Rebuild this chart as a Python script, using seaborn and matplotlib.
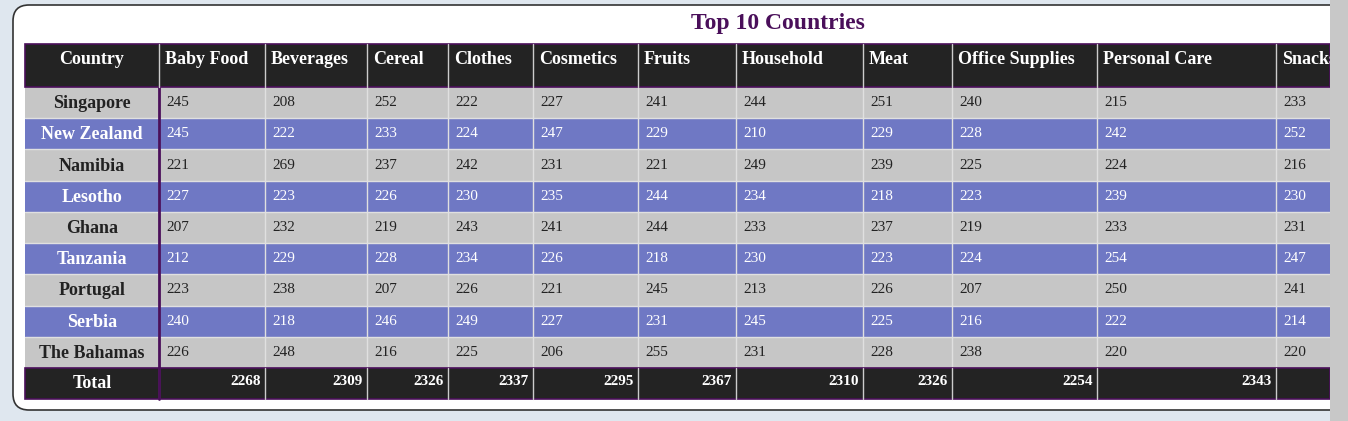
import numpy as np
import seaborn as sns
import matplotlib.pyplot as plt
from matplotlib.colors import ListedColormap
from matplotlib.patches import FancyBboxPatch, Rectangle

categories = ["Baby Food", "Beverages", "Cereal", "Clothes", "Cosmetics", "Fruits",
              "Household", "Meat", "Office Supplies", "Personal Care", "Snacks"]
countries = ["Singapore", "New Zealand", "Namibia", "Lesotho", "Ghana",
             "Tanzania", "Portugal", "Serbia", "The Bahamas"]
values = [
    [245, 208, 252, 222, 227, 241, 244, 251, 240, 215, 233],
    [245, 222, 233, 224, 247, 229, 210, 229, 228, 242, 252],
    [221, 269, 237, 242, 231, 221, 249, 239, 225, 224, 216],
    [227, 223, 226, 230, 235, 244, 234, 218, 223, 239, 230],
    [207, 232, 219, 243, 241, 244, 233, 237, 219, 233, 231],
    [212, 229, 228, 234, 226, 218, 230, 223, 224, 254, 247],
    [223, 238, 207, 226, 221, 245, 213, 226, 207, 250, 241],
    [240, 218, 246, 249, 227, 231, 245, 225, 216, 222, 214],
    [226, 248, 216, 225, 206, 255, 231, 228, 238, 220, 220],
]
totals = [2268, 2309, 2326, 2337, 2295, 2367, 2310, 2326, 2254, 2343, None]

# column edges in pixels (Country column first); last column clipped by the card
edges = [25, 159, 265, 367, 448, 533, 638, 736, 863, 952, 1097, 1276, 1330]
W, H = 1348, 421
top, body_top, body_bot, bot = 44, 87, 368, 399
rh = (body_bot - body_top) / len(countries)

GRAY, BLUE, DARK, PURPLE = "#c6c6c6", "#6f78c4", "#232323", "#4a0f5a"
serif = "Liberation Serif"

sns.set_theme(style="white")
plt.rcParams["font.family"] = [serif, "DejaVu Serif"]

fig = plt.figure(figsize=(W / 100, H / 100), dpi=100)
fig.patch.set_facecolor("#dfe7ef")

# page / card
bg = fig.add_axes([0, 0, 1, 1])
bg.set_xlim(0, W); bg.set_ylim(H, 0); bg.axis("off")
bg.add_patch(FancyBboxPatch((13, 5), 1340, 405, boxstyle="round,pad=0,rounding_size=16",
                            fc="white", ec="#333333", lw=1.2))
bg.add_patch(Rectangle((1330, 0), 18, H, fc="#c8c8c8", ec="none"))
bg.add_patch(Rectangle((1335, 0), 8, H, fc="#c0c0c0", ec="none"))
bg.text(778, 24, "Top 10 Countries", ha="center", va="center", fontsize=17,
        fontweight="bold", color=PURPLE, family=serif)

# body: heatmap of row parity on a per-pixel column grid
ncol = edges[-1] - edges[0]
parity = np.repeat(np.arange(len(countries)) % 2, ncol).reshape(len(countries), ncol)
bax = fig.add_axes([edges[0] / W, 1 - body_bot / H, ncol / W, (body_bot - body_top) / H])
sns.heatmap(parity, ax=bax, cmap=ListedColormap([GRAY, BLUE]), cbar=False,
            xticklabels=False, yticklabels=False)
bax.set_xlim(0, ncol); bax.set_ylim(len(countries), 0)
for e in edges[1:-1]:
    bax.axvline(e - edges[0], color="#e0e0e0", lw=1)
for i in range(1, len(countries)):
    bax.axhline(i, color="#e0e0e0", lw=1)
bax.axvline(edges[1] - edges[0], color=PURPLE, lw=2)

# header, country names, values and totals
ov = fig.add_axes([0, 0, 1, 1], facecolor="none")
ov.set_xlim(0, W); ov.set_ylim(H, 0); ov.axis("off")
ov.add_patch(Rectangle((edges[0], top), edges[-1] - edges[0], body_top - top, fc=DARK, ec=PURPLE, lw=1.2))
ov.add_patch(Rectangle((edges[0], body_bot), edges[-1] - edges[0], bot - body_bot, fc=DARK, ec=PURPLE, lw=1.2))
for e in edges[1:-1]:
    ov.plot([e, e], [top, body_top], color="#cccccc", lw=1)
    ov.plot([e, e], [body_bot, bot], color="#cccccc", lw=1)
ov.plot([edges[1], edges[1]], [body_bot, bot], color=PURPLE, lw=2)

hy = 60
ov.text((edges[0] + edges[1]) / 2, hy, "Country", ha="center", va="center",
        color="white", fontsize=13, fontweight="bold")
for j, c in enumerate(categories):
    ov.text(edges[j + 1] + 6, hy, c, ha="left", va="center", color="white",
            fontsize=13, fontweight="bold", clip_on=True)
ov.set_clip_box(None)

for i, name in enumerate(countries):
    y = body_top + (i + 0.5) * rh
    col = "white" if i % 2 else "#222222"
    ov.text((edges[0] + edges[1]) / 2, y + 1, name, ha="center", va="center",
            color=col, fontsize=13, fontweight="bold")
    for j, v in enumerate(values[i]):
        ov.text(edges[j + 1] + 7, y, str(v), ha="left", va="center", color=col, fontsize=11)

ty = (body_bot + bot) / 2
ov.text((edges[0] + edges[1]) / 2, ty, "Total", ha="center", va="center",
        color="white", fontsize=13, fontweight="bold")
for j, t in enumerate(totals):
    if t is not None:
        ov.text(edges[j + 2] - 4, ty - 2, str(t), ha="right", va="center",
                color="white", fontsize=11, fontweight="bold")

# hide text spilling over the card edge
ov.add_patch(Rectangle((edges[-1], top - 2), 5, bot - top + 4, fc="white", ec="none", zorder=5))
ov.add_patch(Rectangle((1330, 0), 18, H, fc="#c8c8c8", ec="none", zorder=6))

fig.savefig("out.png", dpi=100)
